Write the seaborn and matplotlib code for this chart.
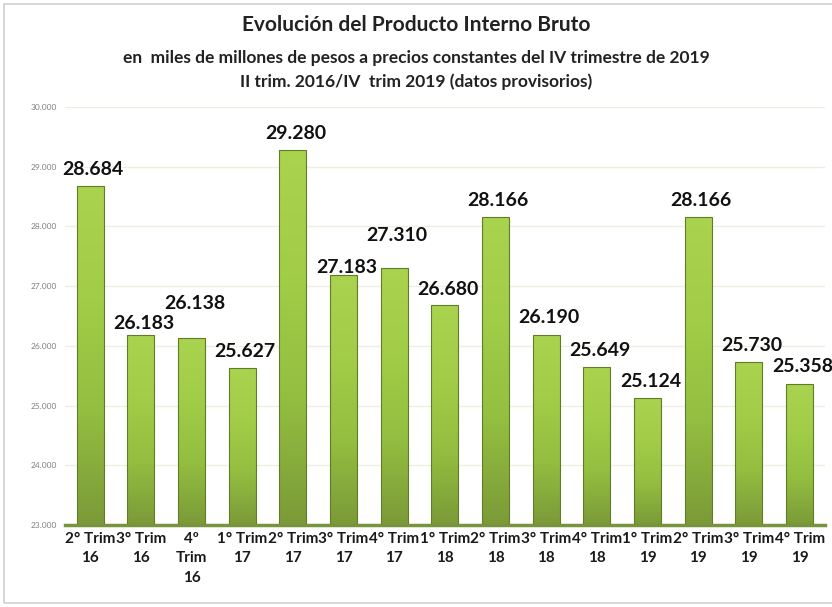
import matplotlib
matplotlib.use("Agg")
import numpy as np
import matplotlib.pyplot as plt
import matplotlib.patches as mpatches
from matplotlib.colors import LinearSegmentedColormap
from matplotlib.ticker import FuncFormatter, FixedLocator
import seaborn as sns
import pandas as pd

quarters = ["2° Trim\n16", "3° Trim\n16", "4º\nTrim\n16", "1° Trim\n17", "2° Trim\n17",
            "3° Trim\n17", "4° Trim\n17", "1° Trim\n18", "2° Trim\n18", "3° Trim\n18",
            "4° Trim\n18", "1° Trim\n19", "2° Trim\n19", "3° Trim\n19", "4° Trim\n19"]
pib = [28684, 26183, 26138, 25627, 29280, 27183, 27310, 26680, 28166, 26190,
       25649, 25124, 28166, 25730, 25358]
value_labels = ["28.684", "26.183", "26.138", "25.627", "29.280", "27.183", "27.310", "26.680",
                "28.166", "26.190", "25.649", "25.124", "28.166", "25.730", "25.358"]
# gap (points) between bar top and label baseline, as placed in the original chart
label_gap = [8, 4.5, 21, 8, 8, 2, 19, 7.5, 7.5, 8.5, 8, 8, 7.5, 8, 8.5]

df = pd.DataFrame({"trimestre": quarters, "pib": pib})

sns.set_style("white")
plt.rcParams["font.family"] = ["Lato", "DejaVu Sans"]

fig = plt.figure(figsize=(8.32, 6.07), dpi=100)
ax = fig.add_axes([0.078, 0.135, 0.9135, 0.6886])

sns.barplot(data=df, x="trimestre", y="pib", color="#9CC941", width=0.53,
            edgecolor="#5F7C26", linewidth=0.8, saturation=1, ax=ax, zorder=3)

ymin, ymax = 23000, 30000
# vertical gradient fill inside each bar
bar_cmap = LinearSegmentedColormap.from_list("bar", ["#7B9A38", "#93BE40", "#A2CD48", "#AAD350"])
grad = np.linspace(0, 1, 256).reshape(-1, 1)
for p in list(ax.patches):
    x0, w, top = p.get_x(), p.get_width(), p.get_y() + p.get_height()
    im = ax.imshow(grad, extent=[x0, x0 + w, ymin, top], origin="lower", aspect="auto",
                   cmap=bar_cmap, zorder=3.5)
    im.set_clip_path(p)
    p.set_facecolor("none")
    p.set_zorder(4)

ax.set_ylim(ymin, ymax)
ax.set_xlim(-0.5, 14.5)
ax.set_aspect("auto")
ax.yaxis.set_major_locator(FixedLocator(range(ymin, ymax + 1, 1000)))
ax.yaxis.set_major_formatter(FuncFormatter(lambda v, p: f"{int(v):,}".replace(",", ".")))
ax.tick_params(axis="y", labelsize=6, colors="#808080", length=0, pad=6)
ax.grid(axis="y", color="#EDEFE0", linewidth=1, zorder=0)

ax.tick_params(axis="x", which="major", length=0, labelsize=11, pad=5, colors="#1A1A1A")
for lbl in ax.get_xticklabels():
    lbl.set_fontweight("bold")
    lbl.set_linespacing(1.5)
ax.set_xticks([i + 0.5 for i in range(-1, len(quarters))], minor=True)
ax.tick_params(axis="x", which="minor", length=4, width=2, color="#77933C", direction="out")

for s in ["left", "right", "top"]:
    ax.spines[s].set_visible(False)
ax.spines["bottom"].set_color("#77933C")
ax.spines["bottom"].set_linewidth(2.5)
ax.spines["bottom"].set_zorder(6)
ax.set_xlabel("")
ax.set_ylabel("")

for i, (v, t) in enumerate(zip(pib, value_labels)):
    ax.annotate(t, (i, v), xytext=(2, label_gap[i]), textcoords="offset points",
                ha="center", va="baseline", fontsize=14, fontweight="bold", color="#111111",
                annotation_clip=False, zorder=7)

fig.text(0.5, 0.958, "Evolución del Producto Interno Bruto", ha="center", va="center",
         fontsize=15, fontweight="bold", color="#222222")
fig.text(0.5, 0.905, "en  miles de millones de pesos a precios constantes del IV trimestre de 2019",
         ha="center", va="center", fontsize=12.5, fontweight="bold", color="#222222")
fig.text(0.5, 0.866, "II trim. 2016/IV  trim 2019 (datos provisorios)",
         ha="center", va="center", fontsize=12.5, fontweight="bold", color="#222222")

fig.patches.append(mpatches.Rectangle((0.005, 0.006), 1.0, 0.988, transform=fig.transFigure,
                                      fill=False, edgecolor="#D0D0D0", linewidth=1.2))

fig.savefig("out.png", dpi=100)
